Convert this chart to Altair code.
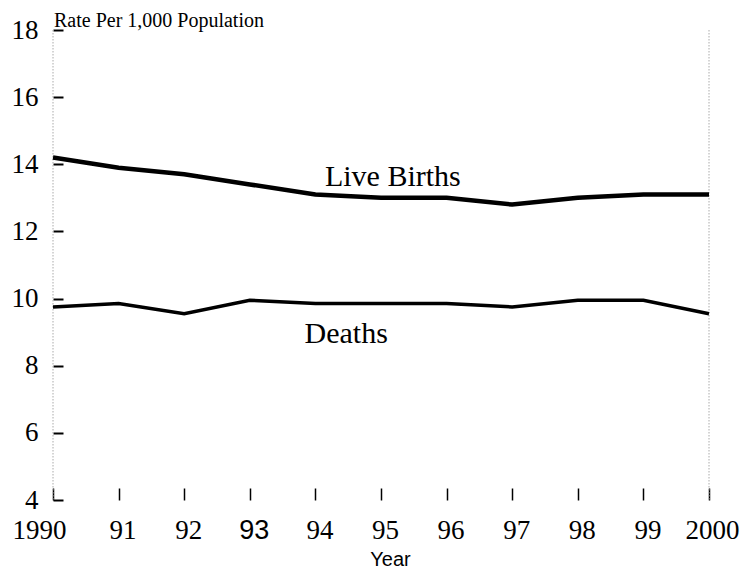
import altair as alt
import pandas as pd

years = list(range(1990, 2001))
year_labels = ["1990", "91", "92", "93", "94", "95", "96", "97", "98", "99", "2000"]
live_births = [14.2, 13.9, 13.7, 13.4, 13.1, 13.0, 13.0, 12.8, 13.0, 13.1, 13.1]
deaths = [9.75, 9.85, 9.55, 9.95, 9.85, 9.85, 9.85, 9.75, 9.95, 9.95, 9.55]
y_ticks = [4, 6, 8, 10, 12, 14, 16, 18]
series_names = ["Live Births", "Deaths"]
label_x = [1995.18, 1994.47]
label_y = [13.35, 8.69]
frame_years = [1990, 2000]

births_df = pd.DataFrame({"year": years, "rate": live_births})
deaths_df = pd.DataFrame({"year": years, "rate": deaths})
labels_df = pd.DataFrame({"name": series_names, "x": label_x, "y": label_y})
frame_df = pd.DataFrame({"year": frame_years})

W, H = 656, 470
SERIF = "Liberation Serif"
SANS = "Liberation Sans"

label_expr = "[" + ",".join(f"'{l}'" for l in year_labels) + "][datum.value - 1990]"

x_scale = alt.Scale(domain=[1990, 2000], nice=False, zero=False)
y_scale = alt.Scale(domain=[4, 18], nice=False, zero=False)

x_axis = alt.Axis(
    values=years,
    labelExpr=label_expr,
    domain=False,
    grid=False,
    tickSize=12,
    tickWidth=1.5,
    tickColor="black",
    offset=-12,
    labelPadding=17,
    labelFontSize=27,
    labelColor="black",
    labelFlush=False,
    labelOverlap=False,
    labelFont={"condition": {"test": "datum.value == 1993", "value": SANS}, "value": SERIF},
    labelOffset={
        "condition": [
            {"test": "datum.value == 1990", "value": -14},
            {"test": "datum.value == 2000", "value": 3},
        ],
        "value": 4,
    },
    title="Year",
    titleFont=SANS,
    titleFontSize=20,
    titleFontWeight="normal",
    titleColor="black",
    titleX=337,
    titleY=77,
    titleAlign="center",
    titleBaseline="alphabetic",
)

y_axis = alt.Axis(
    values=y_ticks,
    domain=False,
    grid=False,
    tickSize=10,
    tickWidth=2,
    tickColor="black",
    offset=-10,
    labelPadding=15,
    labelFont=SERIF,
    labelFontSize=27,
    labelColor="black",
    labelFlush=False,
    labelOverlap=False,
    title="Rate Per 1,000 Population",
    titleFont=SERIF,
    titleFontSize=20,
    titleFontWeight="normal",
    titleColor="black",
    titleAngle=0,
    titleX=-9.5,
    titleY=-4,
    titleAlign="left",
    titleBaseline="alphabetic",
)

frame = alt.Chart(frame_df).mark_rule(color="#aaaaaa", strokeWidth=1, strokeDash=[1.5, 1.5]).encode(
    x=alt.X("year:Q", scale=x_scale, axis=x_axis),
    y=alt.value(0),
    y2=alt.value(H),
)

births_line = alt.Chart(births_df).mark_line(color="black", strokeWidth=4.5).encode(
    x=alt.X("year:Q", scale=x_scale, axis=x_axis),
    y=alt.Y("rate:Q", scale=y_scale, axis=y_axis),
)

deaths_line = alt.Chart(deaths_df).mark_line(color="black", strokeWidth=3.5).encode(
    x=alt.X("year:Q", scale=x_scale, axis=x_axis),
    y=alt.Y("rate:Q", scale=y_scale, axis=y_axis),
)

labels = alt.Chart(labels_df).mark_text(
    font=SERIF, fontSize=30, color="black", align="center", baseline="alphabetic"
).encode(
    x=alt.X("x:Q", scale=x_scale, axis=x_axis),
    y=alt.Y("y:Q", scale=y_scale, axis=y_axis),
    text="name:N",
)

chart = alt.layer(frame, births_line, deaths_line, labels).properties(
    width=W,
    height=H,
    autosize=alt.AutoSizeParams(type="none"),
    padding={"left": 45, "top": 22, "right": 31, "bottom": 69},
    background="white",
).configure_view(
    stroke=None
).configure_axisY(
    labelFont=SERIF, titleFont=SERIF
)

chart.save("out.html", embed_options={"renderer": "svg", "actions": False})
